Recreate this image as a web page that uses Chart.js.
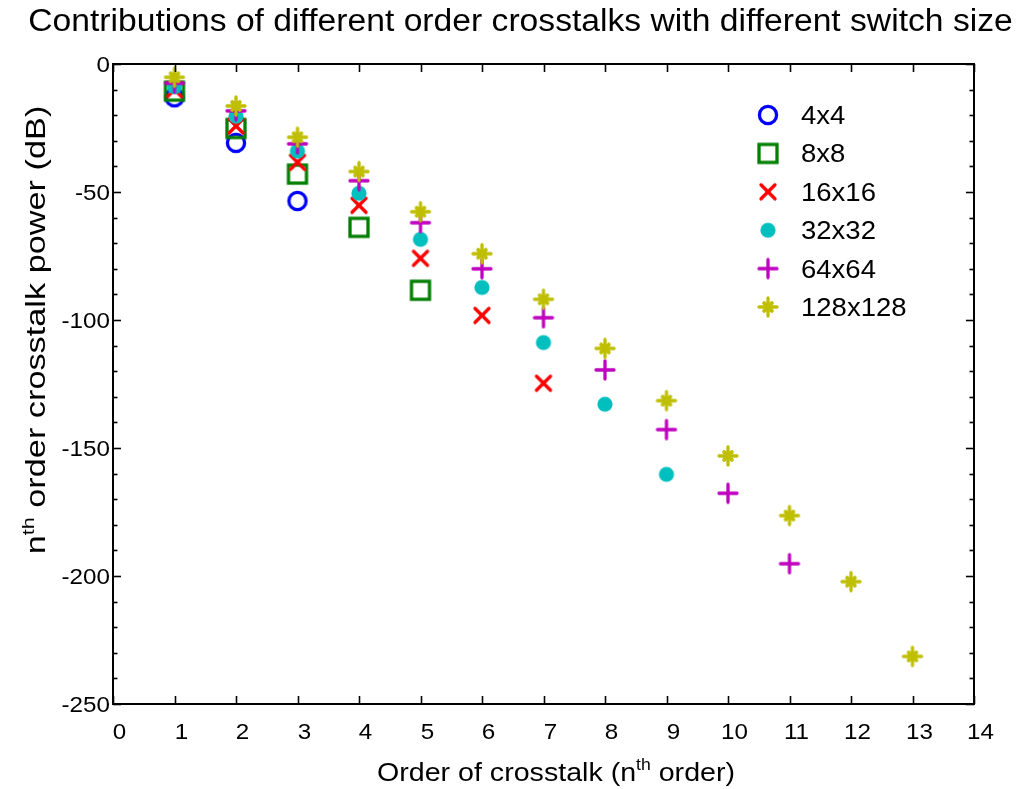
<!DOCTYPE html>
<html>
<head>
<meta charset="utf-8">
<title>Crosstalk contributions</title>
<script src="https://cdn.jsdelivr.net/npm/chart.js@4"></script>
<style>
  html, body { margin: 0; padding: 0; background: #fff; }
  #wrap { width: 1019px; height: 789px; position: relative; }
</style>
</head>
<body>
<div id="wrap"><canvas id="xtalk" width="1019" height="789"></canvas></div>
<script>
// crosstalk order on x, power of each order in dB on y
const orders = [1, 2, 3, 4, 5, 6, 7, 8, 9, 10, 11, 12, 13];
const switchSizes = ['4x4', '8x8', '16x16', '32x32', '64x64', '128x128'];

const xt4 = [-13, -30.8, -53.5];
const xt8 = [-10.6, -25.2, -43, -63.8, -88.4];
const xt16 = [-10, -24.2, -38.4, -55.2, -75.9, -98.2, -124.7];
const xt32 = [-8.9, -20.4, -34, -50.5, -68.5, -87.3, -108.8, -132.9, -160.3];
const xt64 = [-7.5, -18.3, -31.2, -45.6, -62, -80, -99.1, -119.5, -142.8, -167.7, -195.2];
const xt128 = [-5.2, -16.4, -28.6, -42, -57.7, -74.1, -91.9, -111.1, -131.5, -153.1, -176.4, -202.2, -231.4];

const xTicks = [0, 1, 2, 3, 4, 5, 6, 7, 8, 9, 10, 11, 12, 13, 14];
const yTicks = [-250, -200, -150, -100, -50, 0];
const yMinorStep = 10;

const FONT = '"Liberation Sans", Arial, Helvetica, sans-serif';
const WIDE = 1.1;

// marker bitmaps, drawn once and handed to Chart.js as pointStyle
function makeMarker(kind, color) {
  const c = document.createElement('canvas');
  c.width = 28; c.height = 28;
  const g = c.getContext('2d');
  g.translate(14, 14);
  g.strokeStyle = color;
  g.fillStyle = color;
  g.lineWidth = 3.3;
  g.lineCap = 'round';
  const seg = (x1, y1, x2, y2) => { g.beginPath(); g.moveTo(x1, y1); g.lineTo(x2, y2); g.stroke(); };
  if (kind === 'circle') {
    g.beginPath(); g.arc(0, 0, 8.6, 0, Math.PI * 2); g.stroke();
  } else if (kind === 'square') {
    g.lineCap = 'butt';
    g.strokeRect(-9, -9, 18, 18);
  } else if (kind === 'x') {
    seg(-7, -7, 7, 7); seg(-7, 7, 7, -7);
  } else if (kind === 'dot') {
    g.beginPath(); g.arc(0, 0, 7.6, 0, Math.PI * 2); g.fill();
  } else if (kind === 'plus') {
    seg(-9, 0, 9, 0); seg(0, -9, 0, 9);
  } else if (kind === 'star') {
    seg(-9, 0, 9, 0); seg(0, -9, 0, 9);
    g.lineWidth = 4;
    seg(-3.8, -3.8, 3.8, 3.8); seg(-3.8, 3.8, 3.8, -3.8);
  }
  return c;
}

const series = [
  { values: xt4, kind: 'circle', color: '#0000ff' },
  { values: xt8, kind: 'square', color: '#007f00' },
  { values: xt16, kind: 'x', color: '#ff0000' },
  { values: xt32, kind: 'dot', color: '#00bfbf' },
  { values: xt64, kind: 'plus', color: '#bf00bf' },
  { values: xt128, kind: 'star', color: '#bfbf00' }
];

const datasets = series.map((s, i) => ({
  label: switchSizes[i],
  data: s.values.map((v, k) => ({ x: orders[k], y: v })),
  pointStyle: makeMarker(s.kind, s.color),
  pointRadius: 10,
  borderColor: s.color,
  backgroundColor: s.color,
  showLine: false,
  order: series.length - i
}));

// text with a horizontal stretch, the figure uses a wide face
function wideText(ctx, str, x, y, size, align, sx) {
  ctx.save();
  ctx.translate(x, y);
  ctx.scale(sx || WIDE, 1);
  ctx.font = size + 'px ' + FONT;
  ctx.textAlign = align || 'left';
  ctx.textBaseline = 'alphabetic';
  ctx.fillText(str, 0, 0);
  ctx.restore();
}

// label made of runs, some of them superscript; centred on x=0 of current transform
function richText(ctx, parts, size, baseline, sx) {
  sx = sx || WIDE;
  const supSize = Math.round(size * 0.62);
  let total = 0;
  parts.forEach(p => {
    ctx.font = (p.sup ? supSize : size) + 'px ' + FONT;
    p.w = ctx.measureText(p.t).width * sx;
    total += p.w;
  });
  let x = -total / 2;
  parts.forEach(p => {
    wideText(ctx, p.t, x, p.sup ? baseline - size * 0.42 : baseline, p.sup ? supSize : size, 'left', sx);
    x += p.w;
  });
}

const axesFrame = {
  id: 'axesFrame',
  afterDraw(chart) {
    const { ctx, chartArea: a, scales: { x, y } } = chart;
    ctx.save();
    ctx.fillStyle = '#000';
    ctx.strokeStyle = '#000';
    ctx.lineCap = 'butt';

    const seg = (x1, y1, x2, y2) => { ctx.beginPath(); ctx.moveTo(x1, y1); ctx.lineTo(x2, y2); ctx.stroke(); };

    // inward ticks on all four sides
    ctx.lineWidth = 1.6;
    xTicks.forEach(v => {
      const px = Math.round(x.getPixelForValue(v)) + 0.5;
      seg(px, a.bottom, px, a.bottom - 8);
      seg(px, a.top, px, a.top + 8);
      wideText(ctx, String(v), px + 6, a.bottom + 35, 22, 'center');
    });
    for (let v = y.min; v <= y.max; v += yMinorStep) {
      const py = Math.round(y.getPixelForValue(v)) + 0.5;
      const len = yTicks.includes(v) ? 8 : 4.5;
      seg(a.left, py, a.left + len, py);
      seg(a.right, py, a.right - len, py);
    }
    yTicks.forEach(v => {
      const py = y.getPixelForValue(v);
      wideText(ctx, String(v), a.left - 3, py + 8, 22, 'right');
    });

    ctx.lineWidth = 2;
    ctx.strokeRect(a.left, a.top, a.right - a.left, a.bottom - a.top);

    // legend, top right inside the axes
    chart.data.datasets.forEach((d, i) => {
      const cy = 115 + i * 38.4;
      const img = d.pointStyle;
      ctx.drawImage(img, 768 - img.width / 2, cy - img.height / 2);
      wideText(ctx, d.label, 801, cy + 9, 25, 'left');
    });

    // title and axis labels
    wideText(ctx, 'Contributions of different order crosstalks with different switch size',
      chart.width / 2 + 11, 31, 30.6, 'center');

    ctx.save();
    ctx.translate(556, 0);
    richText(ctx, [{ t: 'Order of crosstalk (n' }, { t: 'th', sup: true }, { t: ' order)' }], 26, 781);
    ctx.restore();

    ctx.save();
    ctx.translate(45, 330);
    ctx.rotate(-Math.PI / 2);
    richText(ctx, [{ t: 'n' }, { t: 'th', sup: true }, { t: ' order crosstalk power (dB)' }], 27, 0, 1.27);
    ctx.restore();

    ctx.restore();
  }
};

new Chart(document.getElementById('xtalk'), {
  type: 'scatter',
  data: { datasets },
  options: {
    responsive: false,
    animation: false,
    events: [],
    layout: { padding: { left: 0, top: 64, right: 45, bottom: 0 } },
    plugins: {
      legend: { display: false },
      title: { display: false },
      tooltip: { enabled: false }
    },
    scales: {
      x: {
        type: 'linear',
        min: xTicks[0],
        max: xTicks[xTicks.length - 1],
        grid: { display: false },
        border: { display: false },
        ticks: { display: false },
        afterFit(scale) { scale.height = 85; }
      },
      y: {
        type: 'linear',
        min: yTicks[0],
        max: yTicks[yTicks.length - 1],
        grid: { display: false },
        border: { display: false },
        ticks: { display: false },
        afterFit(scale) { scale.width = 113; }
      }
    }
  },
  plugins: [axesFrame]
});
</script>
</body>
</html>
